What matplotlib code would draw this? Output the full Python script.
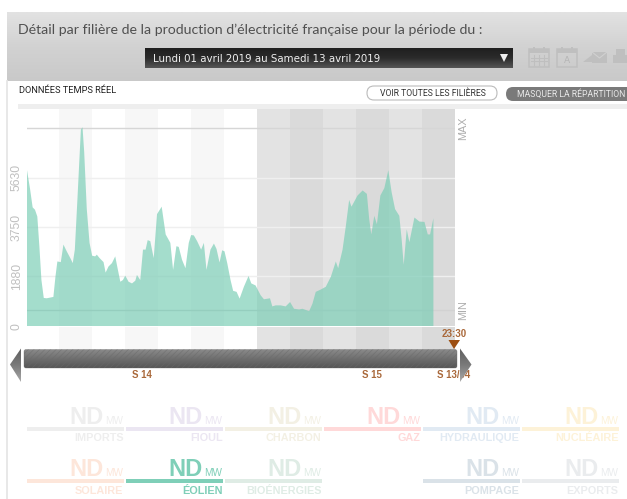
import matplotlib
matplotlib.use("Agg")
import matplotlib.pyplot as plt
import numpy as np
from matplotlib.patches import FancyBboxPatch, Polygon, Rectangle

# ── Data ───────────────────────────────────────────────────────────────────────
HOURS = [
    0, 2.2, 4.1, 5.8, 7.5, 9.0, 10.5, 12.2, 14.3, 16.8, 19.2, 20.7, 22.1, 24.6, 26.5, 28.9,
    31.9, 33.3, 34.8, 36.7, 39.2, 40.4, 41.6, 43.5, 45.5, 47.4, 49.6, 50.8, 52.8, 55.7, 57.2,
    59.3, 61.8, 64.2, 65.9, 67.9, 69.8, 71.5, 73.9, 76.4, 78.8, 80.0, 82.4, 84.4, 86.3, 87.8,
    89.7, 92.2, 94.6, 98.0, 100.9, 104.3, 106.3, 108.7, 110.4, 112.8, 115.3, 117.7, 119.4,
    121.4, 123.8, 126.7, 128.7, 130.6, 133.5, 136.0, 137.9, 140.1, 142.0, 143.7, 145.7, 148.1,
    150.0, 152.5, 154.7, 157.8, 161.2, 163.2, 166.3, 170.0, 172.4, 176.8, 178.5, 180.9, 184.6,
    188.2, 191.4, 194.3, 198.0, 200.4, 205.3, 207.7, 210.1, 213.8, 217.4, 221.1, 224.7, 226.4,
    229.6, 232.0, 234.4, 236.1, 240.5, 244.2, 247.3, 249.0, 250.5, 252.7, 254.6, 257.1, 260.0,
    262.9, 265.3, 267.8, 270.9, 272.6, 274.1, 276.3, 278.2, 281.9, 285.5, 289.2, 291.6, 293.3,
    295.7,
]
EOLIEN_MW = [
    5938, 5229, 4521, 4431, 4173, 3040, 1752, 1069, 1056, 1082, 1108, 1880, 2460, 2434, 3104, 2846,
    2550, 2396, 2911, 4843, 7483, 7573, 6646, 4456, 3168, 2679, 2653, 2718, 2589, 2434, 2035,
    2267, 2396, 2653, 2202, 1687, 1752, 1919, 1687, 1623, 1726, 1945, 1752, 2911, 2911, 3272,
    3233, 2589, 4263, 4547, 3490, 3168, 2138, 3040, 3014, 2524, 2202, 3168, 3465,
    3452, 3233, 2911, 3168, 2138, 2911, 3143, 2937, 2421, 2885, 2846, 2396, 1752,
    1340, 1301, 1043, 1494, 1906, 1623, 1546, 1172, 1018, 1056, 747, 786, 786,
    747, 914, 657, 631, 657, 567, 850, 1301, 1391, 1494, 1880, 2460, 2202,
    2911, 3812, 4804, 4547, 4972, 5165, 5036, 4070, 3490, 4199, 3877, 4972, 5255,
    5938, 5100, 4456, 4199, 3297, 2331, 3684, 3194, 4134, 3980, 3967, 3490, 3490,
    4109,
]
Y_TICKS = [1880, 3750, 5630]
Y_MIN_LINE = 580
Y_MAX_LINE = 7534
Y_TOP = 8250
N_DAYS = 13
WEEK1_DAYS = 7

FILIERES_ROW1 = ["IMPORTS", "FIOUL", "CHARBON", "GAZ", "HYDRAULIQUE", "NUCLÉAIRE"]
COLORS_ROW1 = ["#eeeeee", "#ebe6f2", "#f3f0e4", "#ffd9d9", "#e1eaf3", "#fdf2d8"]
FILIERES_ROW2 = ["SOLAIRE", "ÉOLIEN", "BIOÉNERGIES", None, "POMPAGE", "EXPORTS"]
COLORS_ROW2 = ["#fde6da", "#7fcfb8", "#dfece5", None, "#dae2e8", "#eaecee"]

W, H = 627, 499
plt.rcParams["hatch.linewidth"] = 0.5
fig = plt.figure(figsize=(W / 100, H / 100), dpi=100)


def page_axes(**kw):
    # one unit = one pixel
    a = fig.add_axes([0, 0, 1, 1], **kw)
    a.set_xlim(0, W)
    a.set_ylim(H, 0)
    a.axis("off")
    a.set_autoscale_on(False)
    return a


def gradient(ax, x0, x1, y0, y1, stops, zorder=1, clip=None):
    t = np.linspace(0, 1, 48)
    rgb = [np.interp(t, np.linspace(0, 1, len(stops)),
                     [matplotlib.colors.to_rgb(s)[i] for s in stops]) for i in range(3)]
    im = ax.imshow(np.dstack(rgb).reshape(48, 1, 3), extent=(x0, x1, y1, y0), aspect="auto",
                   zorder=zorder, interpolation="bilinear")
    if clip is not None:
        clip.set_transform(ax.transData)
        im.set_clip_path(clip)
    ax.set_xlim(0, W)
    ax.set_ylim(H, 0)


bg = page_axes()

# ── Header ─────────────────────────────────────────────────────────────────────
gradient(bg, 7, W, 12, 81, ["#e2e2e2", "#d2d2d2", "#c9c9c9"])
bg.text(18, 29.5, "Détail par filière de la production d’électricité française pour la période du :",
        family="Lato", fontsize=10.15, color="#505050", va="center", ha="left", zorder=3)
gradient(bg, 145, 513, 48, 68, ["#1f1f1f", "#2b2b2b", "#555555"], zorder=2)
bg.text(153, 58.5, "Lundi 01 avril 2019 au Samedi 13 avril 2019", family="DejaVu Sans",
        fontsize=7.35, color="#f0f0f0", va="center", ha="left", zorder=3)
bg.add_patch(Polygon([(500, 54), (508, 54), (504, 62)], fc="#eeeeee", zorder=3))

# toolbar icons
icon_c = "#bfbfbf"
for x0 in (528.5, 556.5):
    bg.add_patch(Rectangle((x0, 49), 20.5, 18, fc="none", ec=icon_c, lw=1.1, zorder=2))
    bg.add_patch(Rectangle((x0, 49), 20.5, 4, fc=icon_c, ec="none", zorder=2))
    bg.add_patch(Rectangle((x0 + 4, 47), 2, 4, fc=icon_c, ec="none", zorder=2))
    bg.add_patch(Rectangle((x0 + 14.5, 47), 2, 4, fc=icon_c, ec="none", zorder=2))
for gx in (534, 539, 544):
    bg.plot([gx, gx], [55, 65], color=icon_c, lw=0.8, zorder=2)
for gy in (57.5, 61):
    bg.plot([531, 547], [gy, gy], color=icon_c, lw=0.8, zorder=2)
bg.text(566.8, 60, "A", fontsize=6.5, color="#b5b5b5", ha="center", va="center", zorder=2)
bg.add_patch(Rectangle((592, 52), 15, 11, fc=icon_c, ec="none", zorder=2))
bg.plot([592, 599.5, 607], [52, 58, 52], color="#d0d0d0", lw=0.8, zorder=3)
bg.add_patch(Polygon([(583, 62), (592, 55), (592, 62)], fc=icon_c, zorder=2))
bg.add_patch(Rectangle((613, 55), 14, 8, fc=icon_c, ec="none", zorder=2))
bg.add_patch(Rectangle((616, 49), 9, 6, fc=icon_c, ec="none", zorder=2))

bg.plot([7, 7], [81, H], color="#e6e6e6", lw=1.3, zorder=1)

# ── Sub header ─────────────────────────────────────────────────────────────────
bg.text(19, 90.7, "DONNÉES TEMPS RÉEL", family="Roboto", fontsize=6.7, color="#222222",
        va="center", ha="left")
bg.add_patch(FancyBboxPatch((367, 86), 130, 14, boxstyle="round,pad=0,rounding_size=7",
                            fc="white", ec="#bbbbbb", lw=0.8, zorder=2))
bg.text(433, 93, "VOIR TOUTES LES FILIÈRES", family="Roboto", fontsize=6.2, color="#333333",
        va="center", ha="center", zorder=3)
bg.add_patch(FancyBboxPatch((506, 87), 140, 14, boxstyle="round,pad=0,rounding_size=7",
                            fc="#7a7a7a", ec="none", zorder=2))
bg.text(571, 94, "MASQUER LA RÉPARTITION", family="Roboto", fontsize=6.2, color="#e8e8e8",
        va="center", ha="center", zorder=3)
bg.add_patch(Rectangle((18, 104), W - 18, 5, fc="#eeeeee", ec="none", zorder=1))

# ── Chart, bands and the strip under it ────────────────────────────────────────
PX_L, PX_R, PX_T, PX_B = 26.5, 455.3, 109, 325.5
ax = fig.add_axes([PX_L / W, 1 - PX_B / H, (PX_R - PX_L) / W, (PX_B - PX_T) / H])
strip = fig.add_axes([PX_L / W, 1 - 350 / H, (PX_R - PX_L) / W, 23 / H])
for a in (ax, strip):
    a.set_xlim(0, N_DAYS * 24)
    a.axis("off")
    for d in range(N_DAYS):
        if d < WEEK1_DAYS:
            c = "#f7f7f7" if d % 2 else "white"
        else:
            c = "#e3e3e3" if d % 2 else "#dadada"
        a.axvspan(d * 24, (d + 1) * 24, color=c, lw=0, zorder=0)
ax.set_ylim(0, Y_TOP)

for v in Y_TICKS:
    ax.axhline(v, color="#efefef", lw=1, zorder=1)
ax.axhline(Y_MAX_LINE, color="#d6d6d6", lw=1, zorder=1)
ax.axhline(Y_MIN_LINE, color="#d2d2d2", lw=1, zorder=1)
ax.fill_between(HOURS, 0, EOLIEN_MW, color="#79cdb5", alpha=0.68, lw=0, zorder=2)

for v in Y_TICKS:
    y_px = PX_B - v / Y_TOP * (PX_B - PX_T)
    bg.text(16.8, y_px, str(v), rotation=90, family="Liberation Sans", fontsize=8.7,
            color="#c0c0c0", ha="center", va="center")
bg.text(16.8, 327, "0", rotation=90, family="Liberation Sans", fontsize=8.7, color="#c0c0c0",
        ha="center", va="center")
bg.text(463.5, 128, "MAX", rotation=90, family="Liberation Sans", fontsize=7.8, color="#adadad",
        ha="center", va="center")
bg.text(463.5, 310.5, "MIN", rotation=90, family="Liberation Sans", fontsize=7.8, color="#adadad",
        ha="center", va="center")

# ── Slider ─────────────────────────────────────────────────────────────────────
top = page_axes(facecolor="none")
label_c = "#a9683a"
for x_px, s in ((142, "S 14"), (372, "S 15"), (454, "S 13/04")):
    top.text(x_px, 375.5, s, family="Liberation Sans", weight="bold", fontsize=6.9, color=label_c,
             ha="center", va="center")
top.text(454, 334, "23:30", family="Liberation Sans", weight="bold", fontsize=7, color=label_c,
         ha="center", va="center")
top.add_patch(Polygon([(448.5, 340), (460, 340), (454, 349)], fc="#9c4f12", ec="none"))

bar = FancyBboxPatch((24, 349.5), 433, 18.5, boxstyle="round,pad=0,rounding_size=2", fc="none", ec="none")
top.add_patch(bar)
gradient(top, 24, 457, 349.5, 368, ["#8c8c8c", "#6f6f6f", "#565656"], zorder=2, clip=bar)
top.add_patch(FancyBboxPatch((24, 349.5), 433, 18.5, boxstyle="round,pad=0,rounding_size=2",
                             fc="none", ec="#6a6a6a", hatch="//////", lw=0.4, alpha=0.6, zorder=3))
for pts in ([(21, 348.5), (21, 382), (10, 364.5)], [(460, 348.5), (460, 382), (471.5, 364.5)]):
    arrow = Polygon(pts, fc="none", ec="none")
    top.add_patch(arrow)
    gradient(top, 5, 475, 348.5, 382, ["#5f5f5f", "#7a7a7a", "#a8a8a8"], zorder=4, clip=arrow)


# ── Filière tiles ──────────────────────────────────────────────────────────────
def tile(x0, y_bar, name, color):
    x1 = x0 + 96.5
    top.add_patch(Rectangle((x0, y_bar - 2), x1 - x0, 4, fc=color, ec="none"))
    top.text(x0 + 76.5, y_bar - 5, "ND", family="Liberation Sans", weight="bold", fontsize=17,
             color=color, ha="right", va="baseline")
    top.text(x1, y_bar - 5, "MW", family="Liberation Sans", fontsize=7.2, color=color,
             ha="right", va="baseline")
    top.text(x1, y_bar + 9.5, name, family="Liberation Sans", weight="bold", fontsize=7.8,
             color=color, ha="right", va="center")


for i in range(6):
    x0 = 27 + i * 99
    tile(x0, 428.5, FILIERES_ROW1[i], COLORS_ROW1[i])
    if FILIERES_ROW2[i]:
        tile(x0, 481, FILIERES_ROW2[i], COLORS_ROW2[i])

fig.savefig("out.png", dpi=100)
